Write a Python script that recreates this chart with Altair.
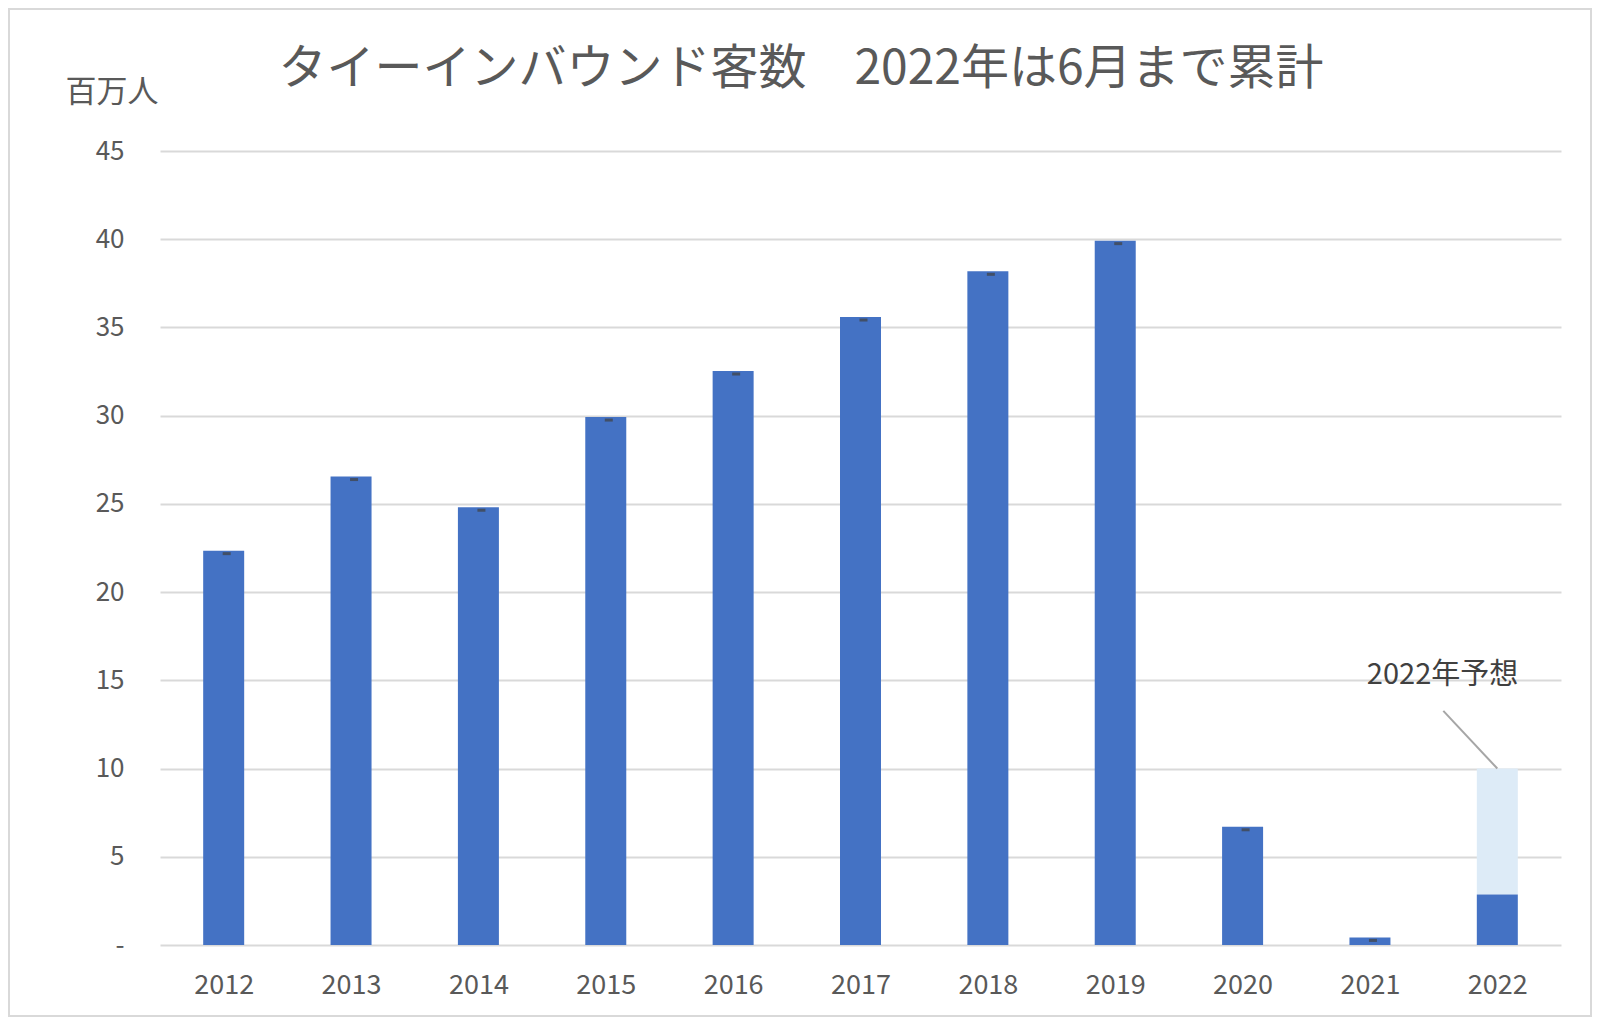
import altair as alt
import pandas as pd

years = [2012, 2013, 2014, 2015, 2016, 2017, 2018, 2019, 2020, 2021, 2022]
visitors = [22.35, 26.55, 24.81, 29.92, 32.53, 35.59, 38.18, 39.92, 6.70, 0.43, 2.86]
marker_years = years[:-1]
forecast_year = 2022
forecast_total = 10.0
title_text = "タイーインバウンド客数　2022年は6月まで累計"
unit_text = "百万人"
note_text = "2022年予想"

FONT = "Noto Sans CJK JP"
GREY = "#595959"
BLUE = "#4472C4"
LIGHT = "#DDEBF7"

W, H = 1401, 794

df = pd.DataFrame({"year": years, "value": visitors})
mk = pd.DataFrame({"year": marker_years, "value": [v - 0.17 for v in visitors[:-1]]})
fc = pd.DataFrame({"year": [forecast_year], "lo": [visitors[-1]], "hi": [forecast_total]})
leader = pd.DataFrame({"x": [forecast_year, forecast_year - 0.424], "y": [forecast_total, 13.27]})
note = pd.DataFrame({"x": [forecast_year - 0.43], "y": [15.3], "t": [note_text]})

xs = alt.Scale(domain=[2011.5, 2022.5], nice=False, zero=False, padding=0)
ys = alt.Scale(domain=[0, 45], nice=False)

xaxis = alt.Axis(values=years, format="d", title=None, ticks=False, domain=False, grid=False,
                 labelPadding=27, labelFontSize=27, labelColor=GREY, labelFont=FONT)
yaxis = alt.Axis(values=list(range(0, 50, 5)), title=unit_text, titleAngle=0, titleAlign="left",
                 titleBaseline="middle", titleX=-95, titleY=-59, titleFontSize=31,
                 titleFontWeight="normal", titleColor=GREY, titleFont=FONT,
                 labelExpr="datum.value == 0 ? '-' : datum.label",
                 ticks=False, domain=False, grid=True, gridColor="#D9D9D9", gridWidth=2,
                 labelPadding=36, labelFontSize=26, labelColor=GREY, labelFont=FONT)

border = alt.Chart(pd.DataFrame({"a": [0]})).mark_rect(fill=None, stroke="#D9D9D9", strokeWidth=2).encode(
    x=alt.value(-151), x2=alt.value(W + 30), y=alt.value(-142), y2=alt.value(H + 71))

title = alt.Chart(pd.DataFrame({"t": [title_text]})).mark_text(
    fontSize=48, color=GREY, font=FONT, align="center", baseline="middle").encode(
    x=alt.value(641), y=alt.value(-81), text="t:N")

bars = alt.Chart(df).mark_bar(width=41, color=BLUE).encode(
    x=alt.X("year:Q", scale=xs, axis=xaxis),
    y=alt.Y("value:Q", scale=ys, axis=yaxis),
)

fbar = alt.Chart(fc).mark_bar(width=41, color=LIGHT).encode(
    x=alt.X("year:Q", scale=xs),
    y=alt.Y("lo:Q", scale=ys),
    y2="hi:Q",
)

ticks = alt.Chart(mk).mark_tick(orient="horizontal", size=8, thickness=3, color="#404040", xOffset=3).encode(
    x=alt.X("year:Q", scale=xs),
    y=alt.Y("value:Q", scale=ys),
)

lead = alt.Chart(leader).mark_line(color="#A6A6A6", strokeWidth=2).encode(
    x=alt.X("x:Q", scale=xs),
    y=alt.Y("y:Q", scale=ys),
)

txt = alt.Chart(note).mark_text(fontSize=29, color="#404040", font=FONT, align="center", baseline="middle").encode(
    x=alt.X("x:Q", scale=xs),
    y=alt.Y("y:Q", scale=ys),
    text="t:N",
)

chart = alt.layer(border, title, fbar, bars, ticks, lead, txt).properties(
    width=W, height=H,
    autosize=alt.AutoSizeParams(type="none"),
    padding={"left": 152, "top": 143, "right": 31, "bottom": 72},
    background="white",
).configure_view(strokeWidth=0, stroke="transparent")

chart.save("out.html", embed_options={"renderer": "svg", "actions": False})
